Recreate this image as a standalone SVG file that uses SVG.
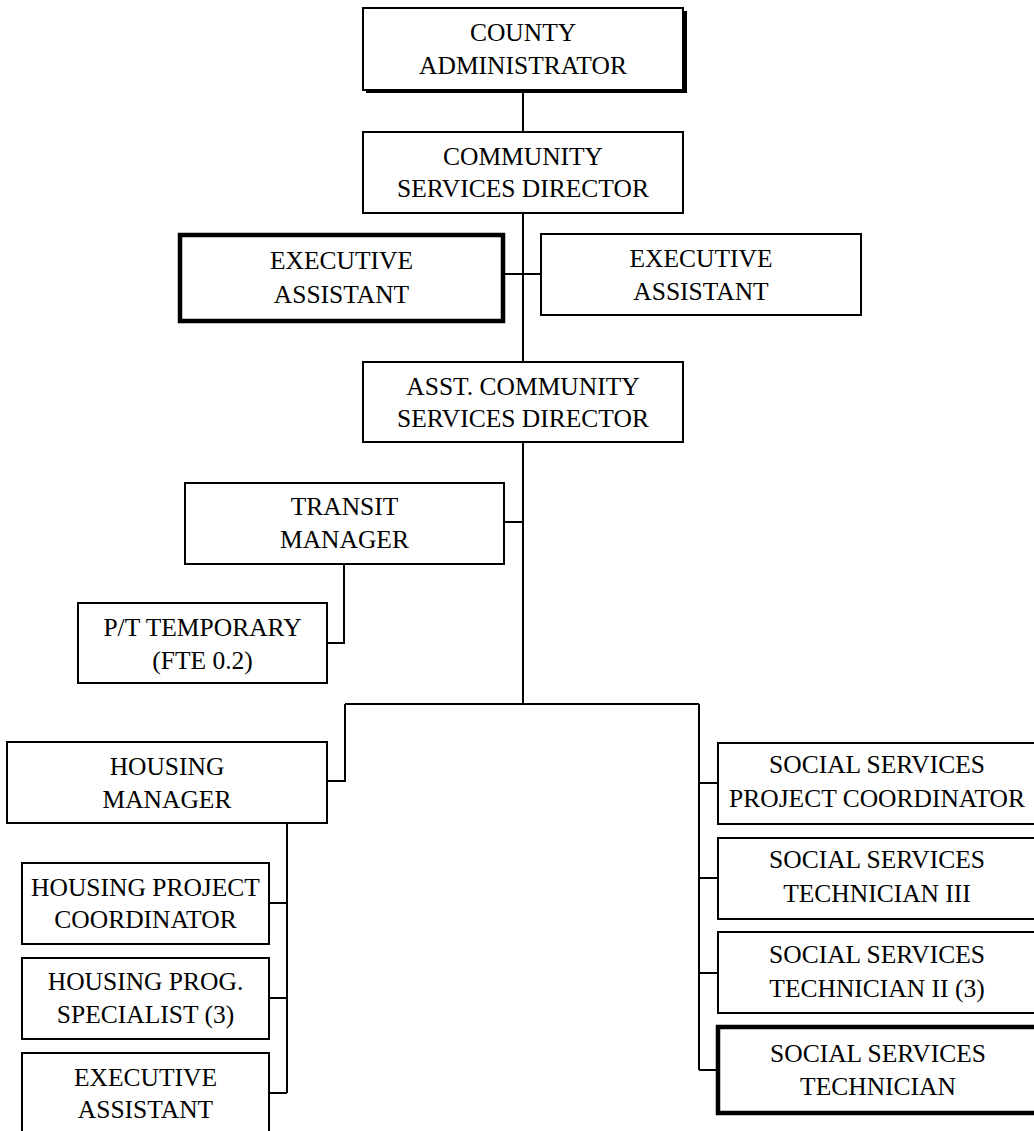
<svg xmlns="http://www.w3.org/2000/svg" width="1034" height="1131" viewBox="0 0 1034 1131">
  <style>
    .box { fill: #ffffff; stroke: #000000; stroke-width: 2; }
    .bold { fill: #ffffff; stroke: #000000; stroke-width: 4.5; }
    .shadow { fill: #000000; }
    .wire { fill: none; stroke: #000000; stroke-width: 2; }
    text { font-family: "Liberation Serif", "Times New Roman", serif; font-size: 25.5px; fill: #000000; text-anchor: middle; }
  </style>
  <rect width="1034" height="1131" fill="#ffffff"/>

  <!-- reporting lines -->
  <g id="connectors">
    <path class="wire" d="M523 90 V132"/>
    <path class="wire" d="M523 213 V362"/>
    <path class="wire" d="M503 274 H541"/>
    <path class="wire" d="M523 442 V704"/>
    <path class="wire" d="M504 522 H523"/>
    <path class="wire" d="M344 564 V643 H327"/>
    <path class="wire" d="M345 704 H699"/>
    <path class="wire" d="M345 704 V781 H327"/>
    <path class="wire" d="M287 823 V1093"/>
    <path class="wire" d="M269 903 H287 M269 998 H287 M269 1093 H287"/>
    <path class="wire" d="M699 704 V1070"/>
    <path class="wire" d="M699 783 H718 M699 878 H720 M699 973 H720 M699 1070 H718"/>
  </g>

  <g id="county-administrator">
    <rect class="shadow" x="366" y="11" width="321" height="82"/>
    <rect class="box" x="363" y="8" width="320" height="82"/>
    <text x="523" y="41">COUNTY</text>
    <text x="523" y="74">ADMINISTRATOR</text>
  </g>

  <g id="community-services-director">
    <rect class="box" x="363" y="132" width="320" height="81"/>
    <text x="523" y="165">COMMUNITY</text>
    <text x="523" y="197">SERVICES DIRECTOR</text>
  </g>

  <g id="executive-assistant-left">
    <rect class="bold" x="180" y="235" width="323" height="86"/>
    <text x="341.5" y="269">EXECUTIVE</text>
    <text x="341.5" y="303">ASSISTANT</text>
  </g>

  <g id="executive-assistant-right">
    <rect class="box" x="541" y="234" width="320" height="81"/>
    <text x="701" y="267">EXECUTIVE</text>
    <text x="701" y="300">ASSISTANT</text>
  </g>

  <g id="asst-community-services-director">
    <rect class="box" x="363" y="362" width="320" height="80"/>
    <text x="523" y="395">ASST. COMMUNITY</text>
    <text x="523" y="427">SERVICES DIRECTOR</text>
  </g>

  <g id="transit-manager">
    <rect class="box" x="185" y="483" width="319" height="81"/>
    <text x="344.5" y="515">TRANSIT</text>
    <text x="344.5" y="548">MANAGER</text>
  </g>

  <g id="pt-temporary">
    <rect class="box" x="78" y="603" width="249" height="80"/>
    <text x="202.5" y="636">P/T TEMPORARY</text>
    <text x="202.5" y="669">(FTE 0.2)</text>
  </g>

  <g id="housing-manager">
    <rect class="box" x="7" y="742" width="320" height="81"/>
    <text x="167" y="775">HOUSING</text>
    <text x="167" y="808">MANAGER</text>
  </g>

  <g id="housing-project-coordinator">
    <rect class="box" x="22" y="863" width="247" height="81"/>
    <text x="145.5" y="896">HOUSING PROJECT</text>
    <text x="145.5" y="928">COORDINATOR</text>
  </g>

  <g id="housing-prog-specialist">
    <rect class="box" x="22" y="958" width="247" height="81"/>
    <text x="145.5" y="990">HOUSING PROG.</text>
    <text x="145.5" y="1023">SPECIALIST (3)</text>
  </g>

  <g id="housing-executive-assistant">
    <rect class="box" x="22" y="1053" width="247" height="84"/>
    <text x="145.5" y="1086">EXECUTIVE</text>
    <text x="145.5" y="1118">ASSISTANT</text>
  </g>

  <g id="social-services-project-coordinator">
    <rect class="box" x="718" y="743" width="320" height="81"/>
    <text x="877" y="773">SOCIAL SERVICES</text>
    <text x="877" y="807">PROJECT COORDINATOR</text>
  </g>

  <g id="social-services-technician-iii">
    <rect class="box" x="718" y="838" width="320" height="81"/>
    <text x="877" y="868">SOCIAL SERVICES</text>
    <text x="877" y="902">TECHNICIAN III</text>
  </g>

  <g id="social-services-technician-ii">
    <rect class="box" x="718" y="932" width="320" height="81"/>
    <text x="877" y="963">SOCIAL SERVICES</text>
    <text x="877" y="997">TECHNICIAN II (3)</text>
  </g>

  <g id="social-services-technician">
    <rect class="bold" x="718" y="1027" width="322" height="86"/>
    <text x="878" y="1062">SOCIAL SERVICES</text>
    <text x="878" y="1095">TECHNICIAN</text>
  </g>
</svg>
